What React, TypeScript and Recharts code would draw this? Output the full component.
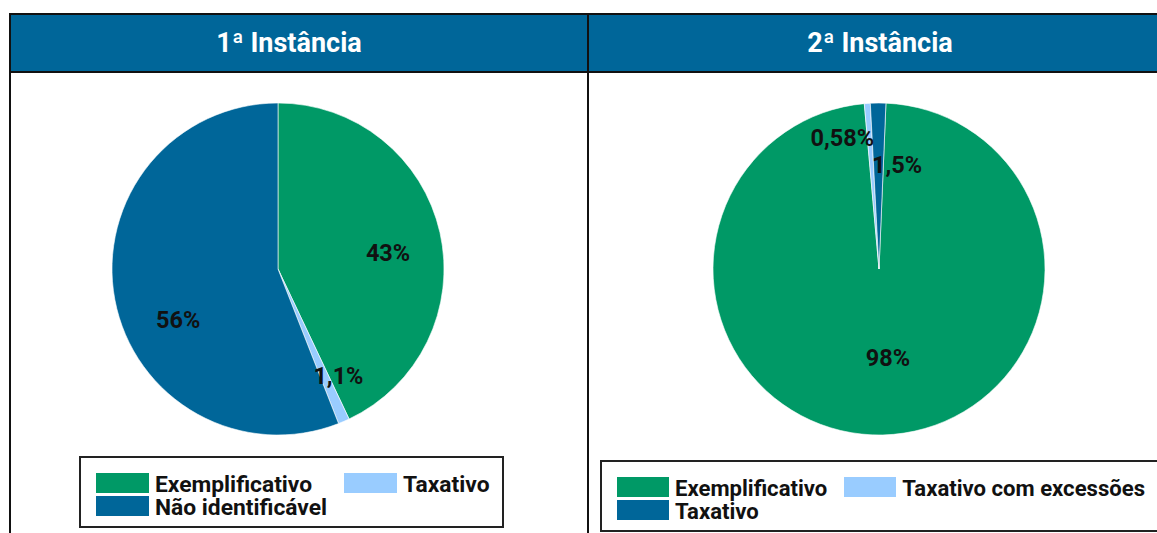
import { PieChart, Pie, Cell, Legend } from "recharts";

const panelTitles = ["1ª Instância", "2ª Instância"];

const firstCategories = ["Exemplificativo", "Taxativo", "Não identificável"];
const firstValues = [43, 1.1, 56];

const secondCategories = ["Exemplificativo", "Taxativo com excessões", "Taxativo"];
const secondValues = [98, 0.58, 1.5];

const GREEN = "#009966";
const LIGHT = "#99ccff";
const DARK = "#006699";
const firstColors = [GREEN, LIGHT, DARK];
const secondColors = [GREEN, LIGHT, DARK];

// label placement per slice: fraction of radius + clockwise nudge (deg) from the mid angle
const firstLabelSpots = [
  { r: 0.67, shift: 4.4 },
  { r: 0.74, shift: -6.1 },
  { r: 0.675, shift: -16.3 }
];
const secondLabelSpots = [
  { r: 0.54, shift: -4.4 },
  { r: 0.817, shift: -11.7 },
  { r: 0.636, shift: 10.1 }
];

const FONT = "Roboto, 'Noto Sans', sans-serif";
const RAD = Math.PI / 180;

function makeLabel(spots: { r: number; shift: number }[]) {
  return (props: any) => {
    const { cx, cy, midAngle, outerRadius, index, value } = props;
    const spot = spots[index];
    const ang = (midAngle - spot.shift) * RAD;
    const r = outerRadius * spot.r;
    const x = cx + r * Math.cos(ang);
    const y = cy - r * Math.sin(ang);
    return (
      <text
        x={x}
        y={y}
        textAnchor="middle"
        dominantBaseline="central"
        fill="#111"
        fontFamily={FONT}
        fontWeight={700}
        fontSize={23.5}
      >
        {`${Number(value).toLocaleString("pt-BR")}%`}
      </text>
    );
  };
}

function LegendBox({
  names,
  colors,
  fontSize,
  swatch
}: {
  names: string[];
  colors: string[];
  fontSize: number;
  swatch: number;
}) {
  return (
    <div
      style={{
        display: "inline-grid",
        gridTemplateColumns: "auto auto",
        columnGap: 17,
        padding: "13px 12px 9px 15px",
        border: "2px solid #222",
        background: "#fff",
        fontFamily: FONT,
        fontWeight: 700,
        fontSize,
        color: "#111",
        whiteSpace: "nowrap"
      }}
    >
      {names.map((n, i) => (
        <div key={n} style={{ display: "flex", alignItems: "center", height: 23 }}>
          <span
            style={{
              display: "inline-block",
              width: swatch,
              height: 20,
              background: colors[i],
              marginRight: 6
            }}
          />
          <span style={{ lineHeight: "23px", position: "relative", top: 2 }}>{n}</span>
        </div>
      ))}
    </div>
  );
}

function PiePanel({
  names,
  values,
  colors,
  spots,
  width,
  cx,
  startAngle,
  legendLeft,
  legendTop,
  legendFont,
  swatch
}: {
  names: string[];
  values: number[];
  colors: string[];
  spots: { r: number; shift: number }[];
  width: number;
  cx: number;
  startAngle: number;
  legendLeft: number;
  legendTop: number;
  legendFont: number;
  swatch: number;
}) {
  const data = names.map((name, i) => ({ name, value: values[i] }));
  return (
    <PieChart width={width} height={460} margin={{ top: 0, right: 0, bottom: 0, left: 0 }}>
      <Pie
        data={data}
        dataKey="value"
        nameKey="name"
        cx={cx}
        cy={196}
        outerRadius={166}
        startAngle={startAngle}
        endAngle={startAngle - 360}
        stroke="#fff"
        strokeWidth={0.6}
        labelLine={false}
        label={makeLabel(spots)}
        isAnimationActive={false}
      >
        {data.map((d, i) => (
          <Cell key={d.name} fill={colors[i]} />
        ))}
      </Pie>
      <Legend
        content={() => (
          <LegendBox names={names} colors={colors} fontSize={legendFont} swatch={swatch} />
        )}
        wrapperStyle={{ position: "absolute", left: legendLeft, top: legendTop, width: "auto", bottom: "auto" }}
      />
    </PieChart>
  );
}

const headerStyle: React.CSSProperties = {
  height: 56,
  background: DARK,
  borderBottom: "2px solid #111",
  color: "#fff",
  fontFamily: FONT,
  fontWeight: 700,
  fontSize: 27,
  display: "flex",
  alignItems: "center",
  justifyContent: "center",
  boxSizing: "content-box"
};

export default function App() {
  return (
    <div
      style={{
        position: "absolute",
        left: 0,
        top: 0,
        width: 1157,
        height: 533,
        overflow: "hidden",
        background: "#fff"
      }}
    >
      <div
        style={{
          position: "absolute",
          left: 9,
          top: 13,
          width: 576,
          height: 560,
          border: "2px solid #111"
        }}
      >
        <div style={{ ...headerStyle, paddingRight: 20, width: 556 }}>{panelTitles[0]}</div>
        <div style={{ position: "absolute", left: 0, top: 58 }}>
          <PiePanel
            names={firstCategories}
            values={firstValues}
            colors={firstColors}
            spots={firstLabelSpots}
            width={576}
            cx={267}
            startAngle={90}
            legendLeft={68}
            legendTop={383}
            legendFont={22.8}
            swatch={53}
          />
        </div>
      </div>
      <div
        style={{
          position: "absolute",
          left: 587,
          top: 13,
          width: 582,
          height: 560,
          border: "2px solid #111"
        }}
      >
        <div style={{ ...headerStyle, width: 582 }}>{panelTitles[1]}</div>
        <div style={{ position: "absolute", left: 0, top: 58 }}>
          <PiePanel
            names={secondCategories}
            values={secondValues}
            colors={secondColors}
            spots={secondLabelSpots}
            width={582}
            cx={290}
            startAngle={87.6}
            legendLeft={11}
            legendTop={387}
            legendFont={22.1}
            swatch={52}
          />
        </div>
      </div>
    </div>
  );
}
